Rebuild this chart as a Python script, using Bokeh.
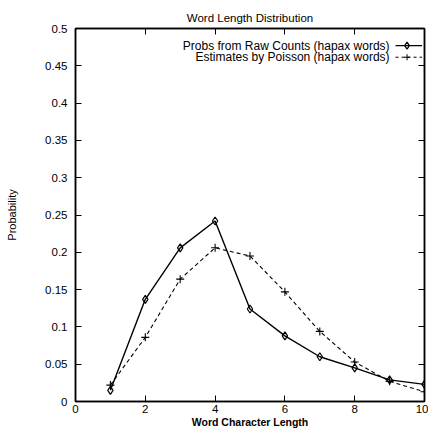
from bokeh.plotting import figure
from bokeh.models import LinearAxis, FixedTicker, Label, Range1d, CustomLabelingPolicy
from bokeh.embed import file_html
from bokeh.resources import INLINE

lengths = [1, 2, 3, 4, 5, 6, 7, 8, 9, 10]
raw_probs = [0.015, 0.137, 0.206, 0.242, 0.124, 0.088, 0.060, 0.045, 0.029, 0.023]
poisson_probs = [0.022, 0.086, 0.164, 0.206, 0.195, 0.147, 0.094, 0.053, 0.027, 0.013]

x_ticks = [0, 2, 4, 6, 8, 10]
y_ticks = [0, 0.05, 0.1, 0.15, 0.2, 0.25, 0.3, 0.35, 0.4, 0.45, 0.5]
y_tick_labels = ["0", "0.05", "0.1", "0.15", "0.2", "0.25", "0.3", "0.35", "0.4", "0.45", "0.5"]

raw_name = "Probs from Raw Counts (hapax words)"
poisson_name = "Estimates by Poisson (hapax words)"

FONT = "Liberation Sans"

p = figure(width=428, height=430, output_backend="svg", toolbar_location=None,
           x_range=Range1d(0, 10), y_range=Range1d(0, 0.5),
           title="Word Length Distribution", min_border_left=75, min_border_right=4,
           min_border_top=28, min_border_bottom=0)
p.title.align = "center"
p.title.text_font = FONT
p.title.text_font_style = "normal"
p.title.text_font_size = "11.5px"
p.title.text_color = "black"
p.title.standoff = 10
p.xgrid.visible = False
p.ygrid.visible = False
p.outline_line_color = "black"
p.outline_line_width = 1.5
p.background_fill_color = "white"
p.border_fill_color = "white"

hide_all = CustomLabelingPolicy(code="for (const i of indices) indices.unset(i); return indices")

def style_axis(ax):
    ax.major_tick_in = 6
    ax.major_tick_out = 0
    ax.minor_tick_in = 0
    ax.minor_tick_out = 0
    ax.axis_line_color = "black"
    ax.axis_line_width = 1.5
    ax.major_tick_line_color = "black"
    ax.major_label_text_font = FONT
    ax.major_label_text_font_size = "11.5px"
    ax.major_label_text_color = "black"

p.xaxis.ticker = FixedTicker(ticks=x_ticks)
p.yaxis.ticker = FixedTicker(ticks=y_ticks)
p.yaxis.major_label_overrides = {t: s for t, s in zip(y_ticks, y_tick_labels)}
style_axis(p.xaxis[0])
style_axis(p.yaxis[0])
p.xaxis.major_label_standoff = 3
p.yaxis.major_label_standoff = 8
p.xaxis.axis_label = "Word Character Length"
p.xaxis.axis_label_text_font = FONT
p.xaxis.axis_label_text_font_style = "bold"
p.xaxis.axis_label_text_font_size = "10.5px"
p.xaxis.axis_label_text_color = "black"
p.xaxis.axis_label_standoff = 0
p.yaxis.axis_label = "Probability"
p.yaxis.axis_label_text_font = FONT
p.yaxis.axis_label_text_font_style = "normal"
p.yaxis.axis_label_text_font_size = "11px"
p.yaxis.axis_label_text_color = "black"
p.yaxis.axis_label_standoff = 24

top = LinearAxis(ticker=FixedTicker(ticks=x_ticks), major_label_policy=hide_all,
                 major_label_overrides={t: "" for t in x_ticks})
style_axis(top)
top.major_label_standoff = 0
p.add_layout(top, "above")
right = LinearAxis(ticker=FixedTicker(ticks=y_ticks), major_label_policy=hide_all,
                   major_label_overrides={t: "" for t in y_ticks})
style_axis(right)
right.major_label_standoff = 0
p.add_layout(right, "right")

p.line(lengths, raw_probs, line_color="black", line_width=1.4)
p.scatter(lengths, raw_probs, marker="diamond", size=8, fill_color=None,
          line_color="black", line_width=1.2)
p.line(lengths, poisson_probs, line_color="black", line_width=1.1, line_dash="4 3")
p.scatter(lengths, poisson_probs, marker="cross", size=8, line_color="black", line_width=1.1)

# legend (key on the right of the text, gnuplot style)
leg_x_text = 9.0
leg_y = [0.477, 0.4615]
for yy, name in zip(leg_y, [raw_name, poisson_name]):
    p.add_layout(Label(x=leg_x_text, y=yy, text=name, text_align="right",
                       text_baseline="middle", text_font=FONT,
                       text_font_size="12px", text_color="black"))
p.line([9.17, 9.93], [leg_y[0], leg_y[0]], line_color="black", line_width=1.4)
p.scatter([9.5], [leg_y[0]], marker="diamond", size=7, fill_color=None,
          line_color="black", line_width=1.2)
p.line([9.17, 9.93], [leg_y[1], leg_y[1]], line_color="black", line_width=1.0, line_dash="3 3")
p.scatter([9.5], [leg_y[1]], marker="cross", size=6, line_color="black", line_width=1.0)

open("out.html", "w").write(file_html(p, INLINE))
